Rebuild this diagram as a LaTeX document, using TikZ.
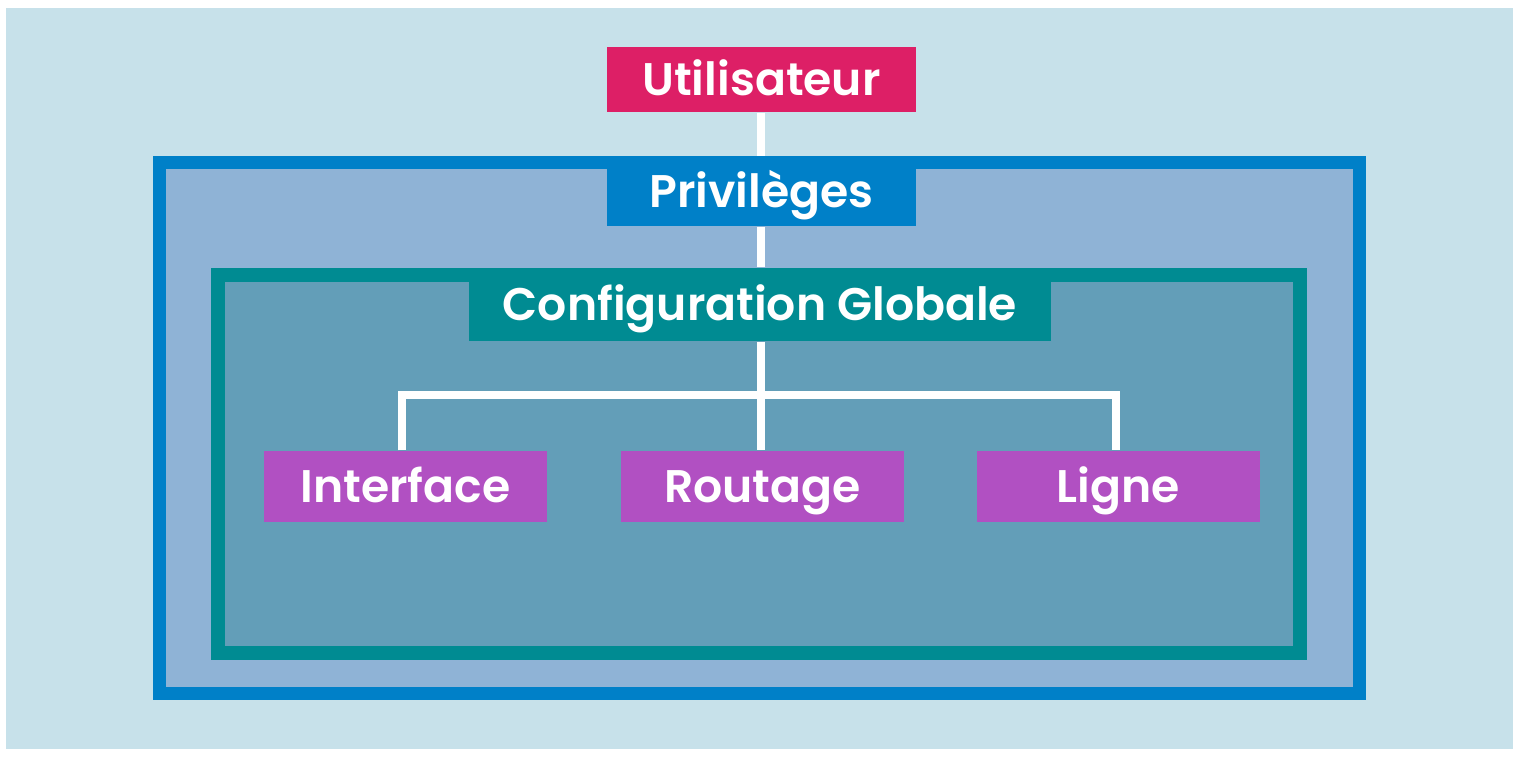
\documentclass[tikz,border=0pt]{standalone}
\usepackage{fontspec}
\setmainfont{Poppins}[UprightFont=* SemiBold, BoldFont=* Bold]
\definecolor{bgblue}{HTML}{C7E1EA}
\definecolor{privblue}{HTML}{0080C8}
\definecolor{privfill}{HTML}{8FB3D6}
\definecolor{confteal}{HTML}{008B92}
\definecolor{conffill}{HTML}{639EB8}
\definecolor{userpink}{HTML}{DD1F66}
\definecolor{modpurple}{HTML}{B150C2}
\tikzset{
    box/.style={draw=none, text=white, inner sep=0pt, font=\fontsize{13}{15}\selectfont,
        text height=0.32cm, text depth=0pt},
    usernode/.style={box, fill=userpink, minimum width=3.09cm, minimum height=0.65cm},
    privnode/.style={box, fill=privblue, minimum width=3.09cm, minimum height=0.69cm},
    confnode/.style={box, fill=confteal, minimum width=5.82cm, minimum height=0.73cm},
    modnode/.style={box, fill=modpurple, minimum width=2.83cm, minimum height=0.71cm},
    wire/.style={white, line width=0.08cm}
}

\begin{document}
\begin{tikzpicture}[x=0.01cm, y=-0.01cm]
    % Background
    \useasboundingbox (0,0) rectangle (1526,758);
    \fill[white] (0,0) rectangle (1526,758);
    \fill[bgblue] (6,8) rectangle (1513,749);

    % Frames
    \draw[privblue, fill=privfill, line width=0.13cm] (159.5,162.5) rectangle (1359.5,693.5);
    \draw[confteal, fill=conffill, line width=0.14cm] (218,275) rectangle (1300,653);

    % Nodes
    \node[usernode] (user) at (761.5,79.5) {Utilisateur};
    \node[privnode] (priv) at (761.5,191.5) {Privilèges};
    \node[confnode] (conf) at (760,304.5) {Configuration Globale};
    \node[modnode] (iface) at (405.5,486.5) {Interface};
    \node[modnode] (route) at (762.5,486.5) {Routage};
    \node[modnode] (line) at (1118.5,486.5) {Ligne};
    \coordinate (junction) at (761,395);

    % Connectors
    \draw[wire] (user.south -| junction) -- (priv.north -| junction);
    \draw[wire] (priv.south -| junction) -- (conf.north -| junction);
    \draw[wire] (conf.south -| junction) -- (route.north -| junction);
    \draw[wire] ([xshift=-0.035cm]iface.north) |- (junction) -| ([xshift=-0.025cm]line.north);
\end{tikzpicture}
\end{document}
